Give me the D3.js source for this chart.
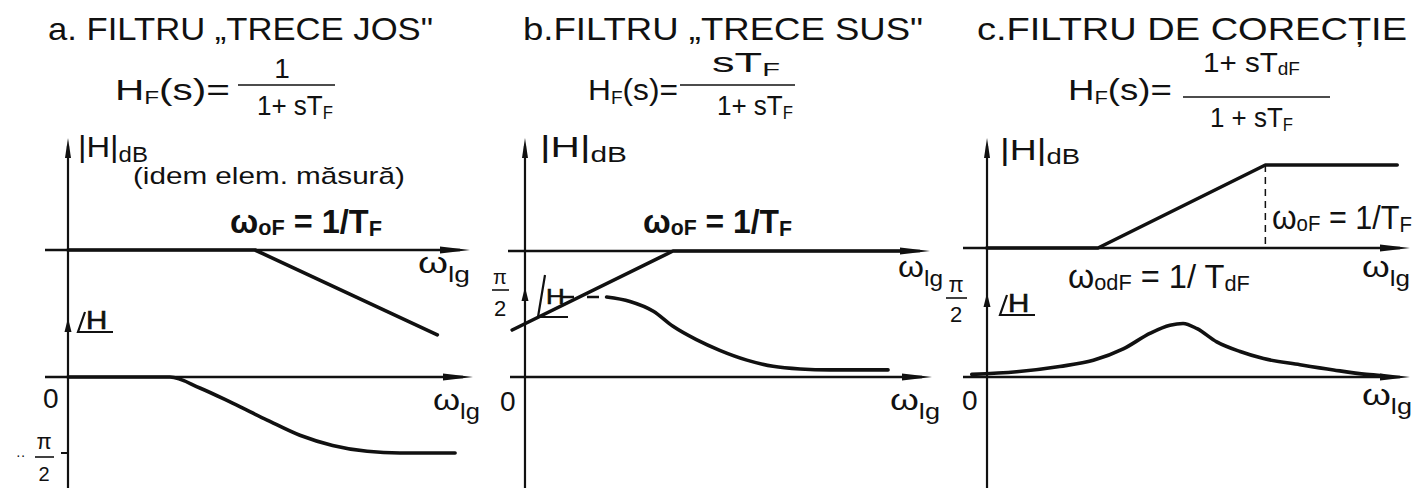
<!DOCTYPE html>
<html>
<head>
<meta charset="utf-8">
<script src="https://cdn.jsdelivr.net/npm/d3@7"></script>
<style>
  html, body { margin: 0; padding: 0; background: #fff; }
  svg { display: block; }
</style>
</head>
<body>
<svg id="chart" width="1419" height="488"></svg>
<script>
// Bode diagrams (asymptotic magnitude + phase) for three first-order filters.
// x values are log10(ω) relative to the break frequency, magnitudes in dB, phases in degrees.

const panelTitles = ["a. FILTRU „TRECE JOS\"", "b.FILTRU „TRECE SUS\"", "c.FILTRU DE CORECȚIE"];

// magnitude asymptotes  [log ω, dB]
const magLowPass    = [[-2, 0], [0, 0], [1.95, -39]];
const magHighPass   = [[-1.72, -34.4], [0, 0], [2.45, 0]];
const magCorrection = [[-1.19, 0], [0, 0], [1.79, 35.7], [3.2, 35.7]];

// phase curves  [log ω, degrees]
const phaseLowPass = [[-2, 0], [-0.91, 0], [-0.59, -13], [-0.24, -31], [0.13, -51], [0.48, -69],
                      [0.83, -81], [1.20, -88], [1.55, -90], [2.14, -90]];
const phaseHighPass = [[-0.71, 90], [-0.46, 85], [-0.21, 74], [0, 57], [0.25, 42], [0.50, 30],
                       [0.79, 19], [1.07, 12], [1.36, 9], [1.68, 8], [2.30, 8]];
const phaseCorrection = [[-1.35, 3], [-0.87, 6], [-0.41, 12], [-0.05, 19], [0.27, 32], [0.56, 50],
                         [0.77, 59], [0.91, 61], [1.06, 55], [1.27, 40], [1.52, 29], [1.77, 21],
                         [2.16, 14], [2.52, 8], [2.87, 3], [3.05, 1.5]];

// phase tick labels
const phaseTickLabels = ["0", "π", "2"];
const axisLabel = "ω";
const axisSub = "lg";

const INK = "#111";
const FONT = "'Liberation Sans', Arial, sans-serif";
const svg = d3.select("#chart");

// ---------- text helpers ----------
function rich(g, x, y, segs, width, weight) {
  const t = g.append("text").attr("x", x).attr("y", y)
    .attr("font-family", FONT).attr("fill", INK)
    .attr("font-weight", weight || "normal");
  let shift = 0;
  segs.forEach(s => {
    const target = s.dy || 0;
    t.append("tspan").attr("font-size", s.size).attr("dy", target - shift).text(s.t);
    shift = target;
  });
  if (width) {
    const bb = t.node().getBBox();
    const sx = width / bb.width;
    const x0 = bb.x;
    t.attr("transform", `translate(${x},0) scale(${sx},1) translate(${-x0},0)`);
  }
  return t;
}
function plain(g, x, y, str, size, opts = {}) {
  const t = g.append("text").attr("x", x).attr("y", y)
    .attr("font-family", FONT).attr("font-size", size).attr("fill", INK)
    .attr("text-anchor", opts.anchor || "start").text(str);
  if (opts.width) t.attr("textLength", opts.width).attr("lengthAdjust", "spacingAndGlyphs");
  return t;
}
function hLine(g, x1, x2, y, w) {
  g.append("line").attr("x1", x1).attr("x2", x2).attr("y1", y).attr("y2", y)
    .attr("stroke", INK).attr("stroke-width", w || 2);
}
function arrowRight(g, x1, x2, y) {
  hLine(g, x1, x2 - 10, y, 2.4);
  g.append("path").attr("d", `M${x2},${y} L${x2 - 30},${y - 3.5} L${x2 - 30},${y + 3.5} Z`).attr("fill", INK);
}
function arrowUp(g, x, yTop, yBottom) {
  g.append("line").attr("x1", x).attr("x2", x).attr("y1", yTop + 8).attr("y2", yBottom)
    .attr("stroke", INK).attr("stroke-width", 2.2);
  g.append("path").attr("d", `M${x},${yTop} L${x - 3},${yTop + 20} L${x + 3},${yTop + 20} Z`).attr("fill", INK);
}
function miniArrow(g, x, yTip) {
  g.append("path").attr("d", `M${x},${yTip} L${x - 3.5},${yTip + 14} L${x + 3.5},${yTip + 14} Z`).attr("fill", INK);
}
// ∠H: slanted stroke + base line, letter H sitting in the angle
function angleLabel(g, x, yBase, slantH, baseW, hBaseline, hSize) {
  g.append("path").attr("d", `M${x + 7},${yBase - slantH} L${x},${yBase} L${x + baseW},${yBase}`)
    .attr("fill", "none").attr("stroke", INK).attr("stroke-width", 2.2);
  plain(g, x + 8, hBaseline, "H", hSize, { width: hSize * 0.85 })
    .attr("stroke", INK).attr("stroke-width", 0.6);
}
function omegaLg(g, x, y, w) {
  rich(g, x, y, [{ t: axisLabel, size: 30 }, { t: axisSub, size: 22, dy: 9 }], w);
}

const lineGen = (xs, ys, curve) => d3.line().x(d => xs(d[0])).y(d => ys(d[1])).curve(curve);

// ---------- panel definitions (layout) ----------
const panels = [
  {
    title: panelTitles[0], titleX: 48, titleW: 385,
    x: d3.scaleLinear().domain([0, 2]).range([255, 442]),
    yMag: d3.scaleLinear().domain([0, -40]).range([250, 337]),
    yPh: d3.scaleLinear().domain([0, -90]).range([377, 453]),
    vAxisLog: -2, magLeft: 45, magRight: 470, phLeft: 45, phRight: 473,
    mag: magLowPass, phase: phaseLowPass, phaseCurve: d3.curveMonotoneX
  },
  {
    title: panelTitles[1], titleX: 523, titleW: 400,
    x: d3.scaleLinear().domain([0, 2]).range([673, 860]),
    yMag: d3.scaleLinear().domain([0, -34.4]).range([251, 330]),
    yPh: d3.scaleLinear().domain([0, 90]).range([377, 297]),
    vAxisLog: -1.583, magLeft: 508, magRight: 930, phLeft: 510, phRight: 932,
    mag: magHighPass, phase: phaseHighPass, phaseCurve: d3.curveMonotoneX
  },
  {
    title: panelTitles[2], titleX: 977, titleW: 430,
    x: d3.scaleLinear().domain([0, 2]).range([1098, 1285]),
    yMag: d3.scaleLinear().domain([0, 35.7]).range([248, 165]),
    yPh: d3.scaleLinear().domain([0, 90]).range([377, 298]),
    vAxisLog: -1.187, magLeft: 963, magRight: 1410, phLeft: 963, phRight: 1410,
    mag: magCorrection, phase: phaseCorrection, phaseCurve: d3.curveMonotoneX
  }
];

panels.forEach((p, i) => {
  const g = svg.append("g").attr("class", "panel-" + i);
  const ax = p.x(p.vAxisLog);
  const y0 = p.yMag(0);
  const p0 = p.yPh(0);

  plain(g, p.titleX, 40, p.title, 32, { width: p.titleW });

  // axes
  arrowUp(g, ax, 138, 488);
  arrowRight(g, p.magLeft, p.magRight, y0);
  arrowRight(g, p.phLeft, p.phRight, p0);

  // magnitude asymptotes
  g.append("path").datum(p.mag).attr("d", lineGen(p.x, p.yMag, d3.curveLinear))
    .attr("fill", "none").attr("stroke", INK).attr("stroke-width", 3.6)
    .attr("stroke-linejoin", "round").attr("stroke-linecap", "round");

  // phase curve
  g.append("path").datum(p.phase).attr("d", lineGen(p.x, p.yPh, p.phaseCurve))
    .attr("fill", "none").attr("stroke", INK).attr("stroke-width", 3.6)
    .attr("stroke-linecap", "round");

  p.ax = ax; p.g = g;
});

// ---------- panel a annotations ----------
{
  const p = panels[0], g = p.g;
  rich(g, 115, 100, [{ t: "H", size: 30 }, { t: "F", size: 18, dy: 4 }, { t: "(s)=", size: 30 }], 115);
  plain(g, 282, 78, "1", 28, { anchor: "middle" });
  hLine(g, 238, 335, 85, 1.6);
  rich(g, 257, 115, [{ t: "1+ sT", size: 28 }, { t: "F", size: 18, dy: 4 }], 76);
  rich(g, 78, 157, [{ t: "|H|", size: 30 }, { t: "dB", size: 22, dy: 5 }], 70);
  rich(g, 133, 184, [{ t: "(idem elem. măsură)", size: 24 }], 272);
  rich(g, 230, 233, [{ t: "ω", size: 34 }, { t: "oF", size: 22, dy: 2 }, { t: " = 1/T", size: 33 }, { t: "F", size: 22, dy: 3 }], 152, "bold");
  omegaLg(g, 418, 273, 52);
  omegaLg(g, 433, 410, 47);
  angleLabel(g, 78, 332, 20, 35, 329, 25);
  miniArrow(g, p.ax, 318);
  plain(g, 43, 408, phaseTickLabels[0], 28);
  // -π/2 tick
  hLine(g, p.ax - 7, p.ax, p.yPh(-90), 2);
  plain(g, 16, 460, "··", 14);
  plain(g, 44, 449, phaseTickLabels[1], 22, { anchor: "middle" });
  hLine(g, 35, 54, 457, 1.6);
  plain(g, 44, 481, phaseTickLabels[2], 20, { anchor: "middle" });
}

// ---------- panel b annotations ----------
{
  const p = panels[1], g = p.g;
  rich(g, 588, 100, [{ t: "H", size: 30 }, { t: "F", size: 18, dy: 4 }, { t: "(s)=", size: 30 }], 90);
  rich(g, 712, 72, [{ t: "sT", size: 28 }, { t: "F", size: 18, dy: 4 }], 68);
  hLine(g, 680, 795, 85, 1.6);
  rich(g, 717, 115, [{ t: "1+ sT", size: 28 }, { t: "F", size: 18, dy: 4 }], 76);
  rich(g, 540, 157, [{ t: "|H|", size: 30 }, { t: "dB", size: 22, dy: 5 }], 87);
  rich(g, 643, 233, [{ t: "ω", size: 34 }, { t: "oF", size: 22, dy: 2 }, { t: " = 1/T", size: 33 }, { t: "F", size: 22, dy: 3 }], 149, "bold");
  omegaLg(g, 898, 277, 45);
  omegaLg(g, 890, 410, 50);
  angleLabel(g, 538, 317, 42, 30, 304, 22);
  g.append("line").attr("x1", 562).attr("x2", 604).attr("y1", p.yPh(90)).attr("y2", p.yPh(90))
    .attr("stroke", INK).attr("stroke-width", 2.4).attr("stroke-dasharray", "12,13");
  miniArrow(g, p.ax, 287);
  plain(g, 500, 411, phaseTickLabels[0], 28);
  plain(g, 500, 284, phaseTickLabels[1], 20, { anchor: "middle" });
  hLine(g, 492, 509, 290, 1.6);
  plain(g, 500, 316, phaseTickLabels[2], 22, { anchor: "middle" });
}

// ---------- panel c annotations ----------
{
  const p = panels[2], g = p.g;
  rich(g, 1068, 100, [{ t: "H", size: 30 }, { t: "F", size: 18, dy: 4 }, { t: "(s)=", size: 30 }], 104);
  rich(g, 1203, 72, [{ t: "1+ sT", size: 28 }, { t: "dF", size: 18, dy: 3 }], 97);
  hLine(g, 1183, 1330, 97, 1.6);
  rich(g, 1210, 127, [{ t: "1 + sT", size: 28 }, { t: "F", size: 18, dy: 4 }], 83);
  rich(g, 1000, 160, [{ t: "|H|", size: 30 }, { t: "dB", size: 22, dy: 4 }], 80);
  // dashed guide at ω_oF
  const xF = p.x(magCorrection[2][0]);
  g.append("line").attr("x1", xF).attr("x2", xF)
    .attr("y1", p.yMag(magCorrection[2][1])).attr("y2", p.yMag(0))
    .attr("stroke", INK).attr("stroke-width", 1.5).attr("stroke-dasharray", "7,5");
  rich(g, 1272, 229, [{ t: "ω", size: 34 }, { t: "oF", size: 22, dy: 2 }, { t: " = 1/T", size: 33 }, { t: "F", size: 22, dy: 3 }], 140);
  rich(g, 1068, 288, [{ t: "ω", size: 34 }, { t: "odF", size: 22, dy: 2 }, { t: " = 1/ T", size: 33 }, { t: "dF", size: 22, dy: 3 }], 182);
  omegaLg(g, 1362, 277, 48);
  omegaLg(g, 1362, 405, 50);
  angleLabel(g, 1000, 315, 20, 35, 312, 25);
  miniArrow(g, p.ax, 293);
  plain(g, 962, 410, phaseTickLabels[0], 28);
  plain(g, 956, 292, phaseTickLabels[1], 22, { anchor: "middle" });
  hLine(g, 946, 967, 298, 1.6);
  plain(g, 956, 322, phaseTickLabels[2], 22, { anchor: "middle" });
}
</script>
</body>
</html>
